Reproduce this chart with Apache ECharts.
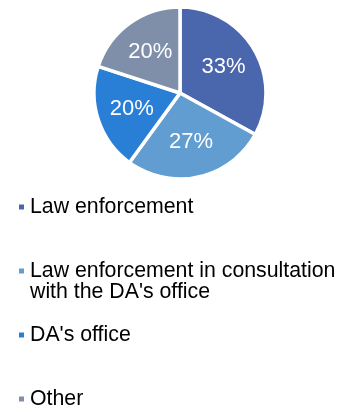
<!DOCTYPE html>
<html>
<head>
<meta charset="utf-8">
<script src="https://cdn.jsdelivr.net/npm/echarts@6/dist/echarts.min.js"></script>
<style>
  html, body { margin: 0; padding: 0; background: #ffffff; }
  #chart { width: 344px; height: 412px; }
</style>
</head>
<body>
<div id="chart"></div>
<script>
// Who makes the decision — share of responses
const categories = [
  "Law enforcement",
  "Law enforcement in consultation with the DA's office",
  "DA's office",
  "Other"
];
const shares = [33, 27, 20, 20];
const colors = ['#4A66AC', '#629DD1', '#297FD5', '#7F8FA9'];

// Legend entries that wrap onto a second line
const wrappedNames = {
  "Law enforcement in consultation with the DA's office":
    "Law enforcement in consultation\nwith the DA's office"
};

const FONT = '"Liberation Sans", Arial, sans-serif';
const PIE_CENTER = [180, 93];
const LINE_H = 21;
const legendCenters = [207, 271, 335, 399];

const chart = echarts.init(document.getElementById('chart'), null, { renderer: 'canvas' });

// One legend block per entry so each sits on its own row
const legends = categories.map(function (name, i) {
  const wrapped = wrappedNames[name];
  // multi-line entries get a blank leading line so the marker lines up with the first row
  const lines = wrapped ? wrapped.split('\n').length + 1 : 1;
  return {
    orient: 'vertical',
    left: 17,
    top: legendCenters[i] - (lines * LINE_H) / 2,
    padding: 0,
    itemWidth: 7,
    itemHeight: 7,
    icon: 'rect',
    selectedMode: false,
    data: [name],
    formatter: function (n) {
      return wrappedNames[n] ? '\n' + wrappedNames[n] : n;
    },
    textStyle: {
      fontFamily: FONT,
      fontSize: 21.3,
      lineHeight: LINE_H,
      color: '#000000'
    }
  };
});

chart.setOption({
  animation: false,
  color: colors,
  legend: legends,
  series: [{
    type: 'pie',
    center: PIE_CENTER,
    radius: 86,
    startAngle: 90,
    clockwise: true,
    silent: true,
    itemStyle: { borderColor: '#ffffff', borderWidth: 3.5 },
    label: {
      show: true,
      position: 'inside',
      formatter: '{c}%',
      color: '#ffffff',
      fontFamily: FONT,
      fontSize: 22
    },
    labelLine: { show: false },
    labelLayout: function (p) {
      // nudge the inside labels slightly outward along their radius
      const r = p.labelRect;
      const lx = r.x + r.width / 2;
      const ly = r.y + r.height / 2;
      const k = 0.1;
      return { dx: (lx - PIE_CENTER[0]) * k, dy: (ly - PIE_CENTER[1]) * k };
    },
    data: categories.map(function (name, i) {
      return { name: name, value: shares[i] };
    })
  }]
});
</script>
</body>
</html>
